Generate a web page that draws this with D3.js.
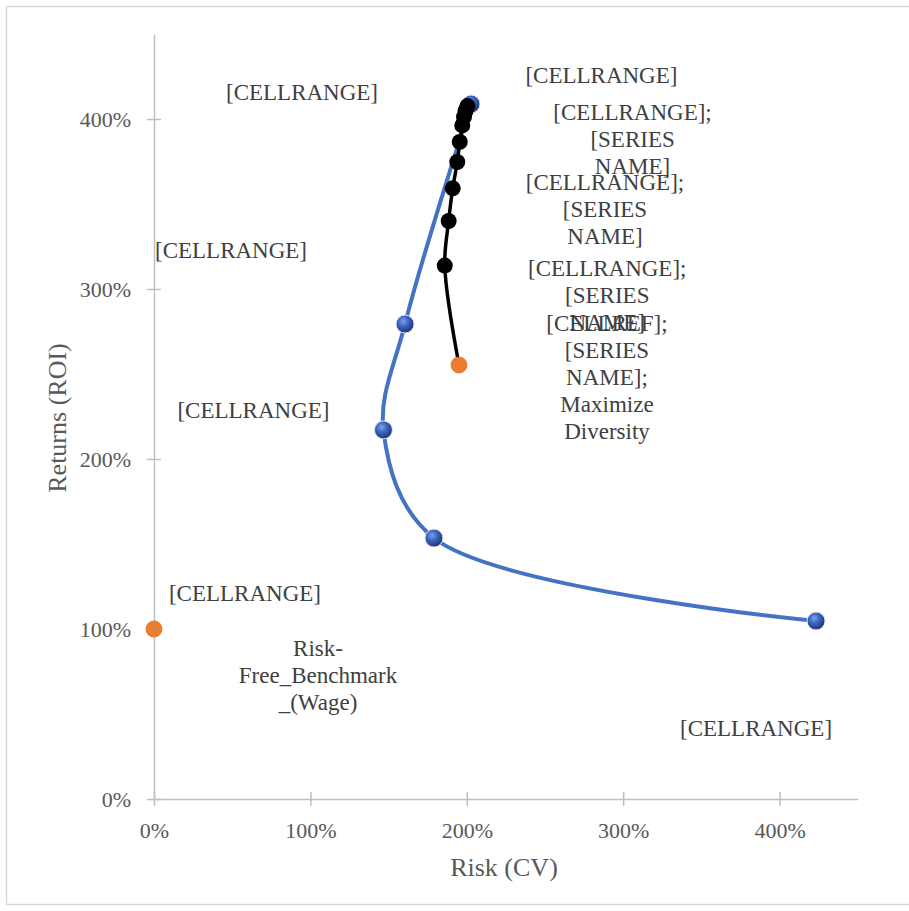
<!DOCTYPE html>
<html lang="en">
<head>
<meta charset="utf-8">
<title>Risk vs Returns</title>
<script src="https://cdn.jsdelivr.net/npm/d3@7"></script>
<style>
    body { margin: 0; background: #fff; }
</style>
</head>
<body>
<script type="text/javascript">
    // efficient frontier (blue, smoothed)
    var frontierRisk   = [4.233, 1.790, 1.467, 1.605, 2.027];
    var frontierReturn = [1.047, 1.535, 2.171, 2.794, 4.088];
    var frontierText   = ["[CELLRANGE]", "[CELLRANGE]", "[CELLRANGE]", "[CELLRANGE]", "[CELLRANGE]"];

    // portfolio path (black), starts from the Maximize Diversity point
    var pathRisk   = [1.859, 1.884, 1.910, 1.939, 1.955, 1.971, 1.982, 1.992, 2.004];
    var pathReturn = [3.138, 3.400, 3.592, 3.747, 3.865, 3.962, 4.012, 4.047, 4.076];
    var pathText   = ["", "", "", "", "",
                      "[CELLRANGE];|[SERIES|NAME]",
                      "[CELLRANGE];|[SERIES|NAME]",
                      "[CELLRANGE];|[SERIES|NAME]",
                      "[CELLRANGE]"];

    // benchmarks (orange)
    var benchRisk   = [0, 1.950];
    var benchReturn = [1.0, 2.553];
    var benchText   = ["Risk-|Free_Benchmark|_(Wage)", "[CELLREF];|[SERIES|NAME];|Maximize|Diversity"];

    var xTicks = [0, 1, 2, 3, 4];
    var yTicks = [0, 1, 2, 3, 4];
    var xTitle = "Risk (CV)";
    var yTitle = "Returns (ROI)";

    var width = 909, height = 911;
    var font = "'Liberation Serif', 'Times New Roman', serif";

    var svg = d3.select("body")
            .append("svg")
            .attr("width", width)
            .attr("height", height);

    // chart frame
    svg.append("rect")
        .attr("x", 6.5)
        .attr("y", 6.5)
        .attr("width", width)
        .attr("height", 898)
        .attr("fill", "#fff")
        .attr("stroke", "#d9d9d9")
        .attr("stroke-width", 1.5);

    var x = d3.scaleLinear().domain([0, 4.5]).range([154, 857.8]);
    var y = d3.scaleLinear().domain([0, 4.5]).range([799, 34]);
    var pct = d3.format(".0%");

    // axes
    var gx = svg.append("g")
        .attr("transform", "translate(0," + y(0) + ")")
        .call(d3.axisBottom(x).tickValues(xTicks).tickFormat(pct).tickSizeOuter(0).tickSizeInner(7));
    gx.selectAll(".tick line").attr("y1", -7).attr("y2", 7);
    gx.selectAll(".tick text").attr("y", 39).attr("dy", null);

    var gy = svg.append("g")
        .attr("transform", "translate(" + x(0) + ",0)")
        .call(d3.axisLeft(y).tickValues(yTicks).tickFormat(pct).tickSizeOuter(0).tickSizeInner(7));
    gy.selectAll(".tick line").attr("x1", -7).attr("x2", 7);
    gy.selectAll(".tick text").attr("x", -23).attr("dy", "0.33em");

    [gx, gy].forEach(function(g) {
        g.attr("font-family", font).attr("font-size", 22);
        g.select(".domain").attr("stroke", "#bfbfbf").attr("stroke-width", 1.5);
        g.selectAll(".tick line").attr("stroke", "#bfbfbf").attr("stroke-width", 1.5);
        g.selectAll(".tick text").attr("fill", "#595959");
    });

    svg.append("text")
        .attr("x", 504)
        .attr("y", 876)
        .attr("text-anchor", "middle")
        .attr("font-family", font)
        .attr("font-size", 26)
        .attr("fill", "#595959")
        .text(xTitle);

    svg.append("text")
        .attr("transform", "translate(66,418) rotate(-90)")
        .attr("text-anchor", "middle")
        .attr("font-family", font)
        .attr("font-size", 26)
        .attr("fill", "#595959")
        .text(yTitle);

    var frontier = frontierRisk.map(function(d, i) { return [d, frontierReturn[i]]; });
    var portfolio = pathRisk.map(function(d, i) { return [d, pathReturn[i]]; });
    var bench = benchRisk.map(function(d, i) { return [d, benchReturn[i]]; });

    var line = d3.line()
        .x(function(d) { return x(d[0]); })
        .y(function(d) { return y(d[1]); })
        .curve(d3.curveCatmullRom.alpha(0.5));

    // shaded blue marker
    var grad = svg.append("defs").append("radialGradient")
        .attr("id", "ball")
        .attr("cx", "40%").attr("cy", "35%").attr("r", "65%");
    grad.append("stop").attr("offset", "0%").attr("stop-color", "#7da3e8");
    grad.append("stop").attr("offset", "45%").attr("stop-color", "#3c64bf");
    grad.append("stop").attr("offset", "100%").attr("stop-color", "#1c3576");

    svg.append("path")
        .attr("d", line(frontier))
        .attr("fill", "none")
        .attr("stroke", "#4472c4")
        .attr("stroke-width", 4);

    svg.append("path")
        .attr("d", line([bench[1]].concat(portfolio)))
        .attr("fill", "none")
        .attr("stroke", "#000")
        .attr("stroke-width", 3.5);

    svg.selectAll("circle.frontier")
        .data(frontier)
        .enter()
        .append("circle")
        .attr("class", "frontier")
        .attr("cx", function(d) { return x(d[0]); })
        .attr("cy", function(d) { return y(d[1]); })
        .attr("r", 9)
        .attr("fill", "url(#ball)")
        .attr("stroke", "#dfe6f3")
        .attr("stroke-width", 1);

    svg.selectAll("circle.path")
        .data(portfolio)
        .enter()
        .append("circle")
        .attr("class", "path")
        .attr("cx", function(d) { return x(d[0]); })
        .attr("cy", function(d) { return y(d[1]); })
        .attr("r", 8)
        .attr("fill", "#000");

    svg.selectAll("circle.bench")
        .data(bench)
        .enter()
        .append("circle")
        .attr("class", "bench")
        .attr("cx", function(d) { return x(d[0]); })
        .attr("cy", function(d) { return y(d[1]); })
        .attr("r", 8)
        .attr("fill", "#ed7d31")
        .attr("stroke", "#e06f22")
        .attr("stroke-width", 0.8);

    // data labels, offset from their point (block centre)
    function label(pt, txt, dx, dy) {
        if (!txt) return;
        var lines = txt.split("|");
        var cx = x(pt[0]) + dx, cy = y(pt[1]) + dy;
        var t = svg.append("text")
            .attr("text-anchor", "middle")
            .attr("font-family", font)
            .attr("font-size", 23)
            .attr("fill", "#404040");
        lines.forEach(function(s, i) {
            t.append("tspan")
                .attr("x", cx)
                .attr("y", cy + (i - (lines.length - 1) / 2) * 27 + 7.5)
                .text(s);
        });
    }

    var frontierOff = [[-60, 107], [-189, 55], [-130, -19], [-174, -74], [-169, -12]];
    frontier.forEach(function(d, i) { label(d, frontierText[i], frontierOff[i][0], frontierOff[i][1]); });

    var pathOff = {5: [145, 170], 6: [141, 93], 7: [167, 28], 8: [134, -31]};
    portfolio.forEach(function(d, i) {
        if (pathOff[i]) label(d, pathText[i], pathOff[i][0], pathOff[i][1]);
    });

    var benchOff = [[164, 46], [148, 13]];
    bench.forEach(function(d, i) { label(d, benchText[i], benchOff[i][0], benchOff[i][1]); });
</script>
</body>
</html>
